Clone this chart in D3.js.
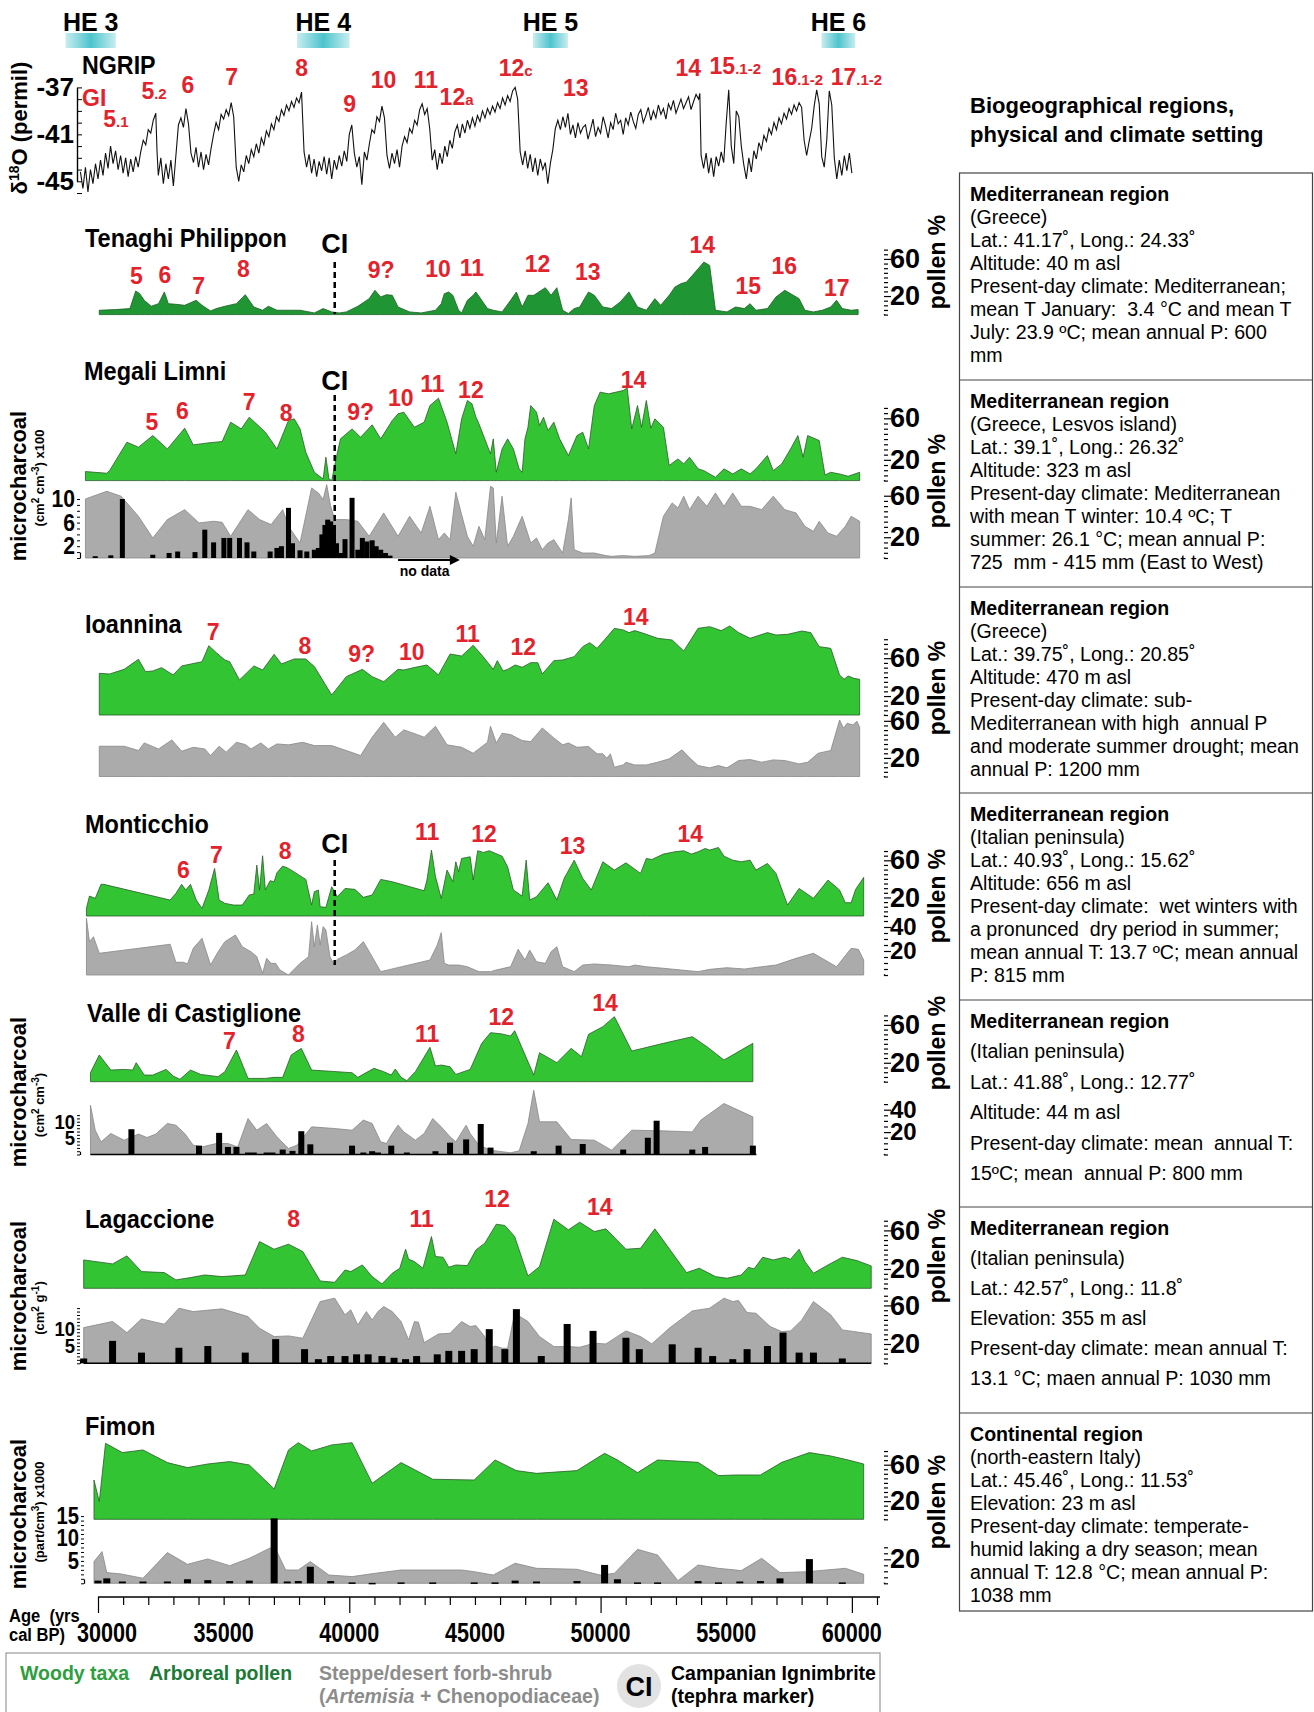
<!DOCTYPE html>
<html><head><meta charset="utf-8">
<script src="https://cdn.jsdelivr.net/npm/d3@7"></script>
<style>
body{margin:0;background:#fff;}
svg text{white-space:pre;}
</style></head><body>
<svg id="c" width="1314" height="1712" xmlns="http://www.w3.org/2000/svg"></svg>
<script>
// ---------------- DATA (age in ka, value) ----------------
const heEvents = [["HE 3",28.71,30.71],["HE 4",37.92,40.01],["HE 5",47.31,48.70],["HE 6",58.79,60.14]];
const ngrip = [[29.3,-44.2],[29.4,-45.6],[29.5,-43.8],[29.6,-45.9],[29.7,-44.0],[29.8,-45.2],[29.9,-43.5],[30.0,-44.8],[30.1,-43.2],[30.2,-44.5],[30.3,-42.6],[30.4,-43.9],[30.5,-42.0],[30.6,-43.5],[30.7,-42.4],[30.8,-44.0],[30.9,-42.8],[31.0,-44.3],[31.1,-43.0],[31.2,-44.6],[31.3,-43.1],[31.4,-44.2],[31.5,-42.9],[31.6,-43.8],[31.7,-42.5],[31.8,-41.5],[31.9,-41.9],[32.0,-40.6],[32.1,-40.9],[32.2,-39.8],[32.3,-39.2],[32.35,-42.5],[32.4,-44.5],[32.5,-43.0],[32.6,-45.2],[32.7,-43.5],[32.8,-44.8],[32.9,-43.2],[33.0,-45.4],[33.1,-42.8],[33.2,-40.2],[33.3,-39.6],[33.4,-40.4],[33.5,-38.8],[33.6,-40.1],[33.7,-42.6],[33.8,-43.4],[33.9,-42.1],[34.0,-43.8],[34.1,-42.5],[34.2,-44.0],[34.3,-42.7],[34.4,-43.6],[34.5,-42.2],[34.6,-41.0],[34.7,-40.0],[34.8,-40.6],[34.9,-39.3],[35.0,-39.7],[35.1,-38.9],[35.2,-39.4],[35.3,-38.3],[35.4,-39.5],[35.5,-43.8],[35.6,-45.0],[35.7,-43.6],[35.8,-44.2],[35.9,-42.8],[36.0,-43.5],[36.1,-42.3],[36.2,-42.9],[36.3,-41.8],[36.4,-42.6],[36.5,-41.3],[36.6,-41.9],[36.7,-40.7],[36.8,-41.2],[36.9,-40.1],[37.0,-40.6],[37.1,-39.5],[37.2,-39.9],[37.3,-38.9],[37.4,-39.4],[37.5,-38.5],[37.6,-39.0],[37.7,-38.2],[37.8,-38.7],[37.9,-37.9],[38.0,-38.3],[38.1,-37.4],[38.2,-42.5],[38.3,-43.8],[38.4,-42.7],[38.5,-44.3],[38.6,-43.1],[38.7,-44.6],[38.8,-43.3],[38.9,-44.1],[39.0,-42.9],[39.1,-44.4],[39.2,-43.0],[39.3,-44.8],[39.4,-43.2],[39.5,-44.0],[39.6,-42.8],[39.7,-43.7],[39.8,-42.4],[39.9,-43.3],[40.0,-41.0],[40.1,-40.2],[40.2,-42.6],[40.3,-43.8],[40.4,-42.9],[40.5,-45.3],[40.6,-42.5],[40.7,-43.2],[40.8,-41.8],[40.9,-40.6],[41.0,-40.9],[41.1,-39.5],[41.2,-39.9],[41.3,-38.6],[41.4,-39.6],[41.5,-42.8],[41.6,-43.9],[41.7,-42.6],[41.8,-43.5],[41.9,-42.3],[42.0,-43.8],[42.1,-42.0],[42.2,-41.2],[42.3,-41.7],[42.4,-40.5],[42.5,-40.9],[42.6,-39.8],[42.7,-40.2],[42.8,-38.9],[42.9,-38.4],[43.0,-39.3],[43.1,-38.8],[43.2,-40.5],[43.3,-43.2],[43.4,-42.3],[43.5,-44.0],[43.6,-42.6],[43.7,-43.5],[43.8,-42.0],[43.9,-42.9],[44.0,-41.5],[44.1,-42.2],[44.2,-40.8],[44.3,-40.2],[44.4,-41.3],[44.5,-40.1],[44.6,-40.9],[44.7,-39.8],[44.8,-40.5],[44.9,-39.6],[45.0,-40.3],[45.1,-39.4],[45.2,-39.9],[45.3,-39.0],[45.4,-39.6],[45.5,-38.8],[45.6,-39.3],[45.7,-38.6],[45.8,-39.1],[45.9,-38.3],[46.0,-38.8],[46.1,-37.9],[46.2,-38.5],[46.3,-37.7],[46.4,-38.2],[46.5,-37.3],[46.6,-37.0],[46.7,-38.0],[46.8,-42.5],[46.9,-43.6],[47.0,-42.4],[47.1,-43.9],[47.2,-42.7],[47.3,-44.2],[47.4,-43.0],[47.5,-44.5],[47.6,-43.1],[47.7,-44.0],[47.8,-43.4],[47.9,-45.2],[48.0,-43.5],[48.1,-42.3],[48.2,-40.5],[48.3,-39.8],[48.4,-40.6],[48.5,-39.5],[48.6,-40.4],[48.7,-39.2],[48.8,-41.0],[48.9,-40.2],[49.0,-41.3],[49.1,-40.0],[49.2,-40.9],[49.3,-40.4],[49.4,-40.2],[49.5,-41.4],[49.6,-40.6],[49.7,-39.7],[49.8,-41.2],[49.9,-40.4],[50.0,-40.9],[50.1,-39.5],[50.2,-40.3],[50.3,-41.3],[50.4,-40.0],[50.5,-40.6],[50.6,-39.2],[50.7,-40.1],[50.8,-39.8],[50.9,-41.0],[51.0,-39.6],[51.1,-40.2],[51.2,-39.1],[51.3,-39.9],[51.4,-40.5],[51.5,-39.3],[51.6,-38.9],[51.7,-40.0],[51.8,-39.4],[51.9,-38.7],[52.0,-39.8],[52.1,-39.0],[52.2,-39.6],[52.3,-38.5],[52.4,-39.3],[52.5,-38.8],[52.6,-39.7],[52.7,-38.4],[52.8,-38.9],[52.9,-38.1],[53.0,-39.2],[53.1,-38.6],[53.2,-38.0],[53.3,-38.8],[53.4,-38.3],[53.5,-37.8],[53.6,-38.9],[53.7,-38.2],[53.8,-37.6],[53.9,-38.0],[53.95,-37.5],[54.0,-42.8],[54.1,-43.9],[54.2,-42.6],[54.3,-44.3],[54.4,-43.0],[54.5,-44.6],[54.6,-42.9],[54.7,-43.7],[54.8,-42.5],[54.9,-43.4],[55.0,-40.0],[55.1,-37.2],[55.2,-42.0],[55.3,-43.5],[55.4,-39.0],[55.5,-39.5],[55.6,-42.0],[55.7,-43.6],[55.8,-44.8],[55.9,-43.0],[56.0,-44.2],[56.1,-42.4],[56.2,-43.1],[56.3,-41.7],[56.4,-42.3],[56.5,-41.1],[56.6,-41.6],[56.7,-40.5],[56.8,-41.0],[56.9,-40.0],[57.0,-40.6],[57.1,-39.6],[57.2,-40.1],[57.3,-39.2],[57.4,-39.7],[57.5,-38.8],[57.6,-39.3],[57.7,-38.5],[57.8,-39.0],[57.9,-38.3],[58.0,-38.7],[58.1,-41.5],[58.2,-42.8],[58.3,-41.6],[58.4,-40.5],[58.5,-38.6],[58.6,-37.2],[58.7,-38.4],[58.8,-42.9],[58.9,-43.8],[59.0,-41.5],[59.1,-37.3],[59.2,-38.5],[59.3,-43.0],[59.4,-44.8],[59.5,-43.2],[59.6,-44.5],[59.7,-42.8],[59.8,-44.1],[59.9,-42.6],[60.0,-44.3]];

const tenaghiAP = [[30.05,4.7],[30.69,5.4],[31.27,6.5],[31.50,25.4],[31.66,22.6],[31.84,15.4],[32.12,9.0],[32.41,11.8],[32.64,24.4],[32.80,11.8],[33.10,11.1],[33.45,10.0],[33.91,15.4],[34.14,10.0],[34.48,3.9],[34.71,6.5],[35.05,9.0],[35.51,11.8],[35.86,21.5],[36.20,8.2],[36.55,4.7],[36.78,9.0],[37.12,4.7],[37.58,4.7],[38.04,4.7],[38.61,1.8],[38.96,6.5],[39.30,2.9],[39.60,1.8],[39.88,2.9],[40.34,9.0],[40.79,17.2],[41.02,26.2],[41.25,19.0],[41.48,21.5],[41.71,20.8],[41.94,8.2],[42.40,2.9],[42.86,1.8],[43.43,4.7],[43.66,11.8],[43.78,22.6],[43.96,24.4],[44.12,20.8],[44.35,4.7],[44.47,1.8],[44.70,15.4],[44.93,20.8],[45.04,24.4],[45.27,15.4],[45.50,6.5],[45.73,4.7],[46.08,2.9],[46.42,15.4],[46.65,24.4],[46.88,8.2],[47.11,20.8],[47.34,20.8],[47.80,29.0],[48.03,20.8],[48.26,29.0],[48.49,4.7],[48.72,1.1],[48.95,6.5],[49.17,8.2],[49.40,19.0],[49.52,24.4],[49.75,20.8],[50.09,8.2],[50.44,6.5],[50.78,13.6],[51.13,24.4],[51.47,8.2],[51.82,4.7],[52.16,17.2],[52.39,10.0],[52.73,20.8],[52.96,29.7],[53.19,33.3],[53.42,35.1],[53.77,45.9],[54.11,56.6],[54.34,53.0],[54.57,4.7],[55.03,2.9],[55.37,8.2],[55.72,6.5],[55.95,11.8],[56.18,4.7],[56.64,6.5],[56.98,19.0],[57.33,26.2],[57.67,20.8],[57.90,17.2],[58.13,4.7],[58.47,2.9],[58.82,4.7],[59.16,8.2],[59.39,15.4],[59.62,6.5],[59.97,4.7],[60.25,5.4]];

const megaliWoody = [[29.50,8.7],[30.35,7.1],[30.46,9.6],[31.15,37.0],[31.61,32.2],[32.18,43.4],[32.76,30.5],[33.45,50.5],[33.79,34.4],[34.37,36.3],[34.94,37.6],[35.28,56.3],[35.70,49.8],[36.02,61.1],[36.66,46.6],[37.12,30.5],[37.58,57.9],[37.81,59.5],[38.04,49.8],[38.27,27.3],[38.61,8.0],[38.96,1.6],[39.07,22.5],[39.19,1.6],[39.30,0],[39.53,27.3],[39.65,40.2],[40.11,49.8],[40.45,41.8],[40.91,53.7],[41.25,40.2],[41.71,57.9],[41.94,64.3],[42.17,65.9],[42.59,51.4],[42.98,56.3],[43.21,72.3],[43.55,79.4],[43.89,56.3],[44.24,25.7],[44.47,59.5],[44.70,77.2],[44.88,74.0],[45.04,61.1],[45.16,54.7],[45.39,40.2],[45.62,25.7],[45.73,40.2],[45.85,8.0],[46.08,30.5],[46.30,40.2],[46.53,30.5],[46.76,11.3],[46.88,8.0],[46.99,40.2],[47.11,51.4],[47.22,72.3],[47.45,65.9],[47.57,53.1],[47.73,61.1],[47.91,48.2],[48.14,56.3],[48.37,40.2],[48.72,24.1],[49.06,43.4],[49.29,46.6],[49.52,30.5],[49.75,72.3],[49.98,85.2],[50.32,83.6],[50.90,86.8],[51.06,89.1],[51.24,49.8],[51.47,72.3],[51.63,51.4],[51.82,77.2],[52.00,50.5],[52.16,59.5],[52.50,51.4],[52.73,14.5],[53.08,20.9],[53.31,16.1],[53.54,22.5],[53.88,11.3],[54.11,9.6],[54.57,3.2],[54.91,11.3],[55.26,6.4],[55.60,11.3],[55.95,6.4],[56.18,11.3],[56.41,17.7],[56.64,24.1],[56.87,9.6],[57.21,16.1],[57.56,30.5],[57.85,43.4],[58.06,22.5],[58.24,43.4],[58.70,38.6],[58.93,5.5],[59.16,8.0],[59.51,6.4],[59.85,4.2],[60.31,8.0]];
const megaliSteppe = [[29.50,56.9],[30.35,64.3],[30.92,59.5],[31.61,40.2],[32.18,19.3],[32.76,37.0],[33.45,46.6],[34.02,33.8],[34.60,35.4],[34.94,34.4],[35.28,20.9],[35.97,46.6],[36.43,37.0],[36.89,32.2],[37.35,46.6],[37.58,30.5],[38.04,14.5],[38.50,67.5],[38.77,62.7],[38.96,56.3],[39.10,70.7],[39.26,49.8],[39.42,37.0],[39.65,37.0],[39.88,37.0],[40.34,35.4],[40.79,20.9],[41.37,43.4],[41.94,20.9],[42.40,40.2],[42.86,24.1],[43.21,49.8],[43.55,17.7],[43.78,24.1],[44.01,17.7],[44.24,63.3],[44.47,41.8],[44.70,20.9],[44.93,11.3],[45.16,30.5],[45.39,17.7],[45.62,69.1],[45.73,67.5],[45.85,14.5],[46.08,59.5],[46.30,11.3],[46.53,20.9],[46.88,40.2],[47.22,14.5],[47.45,19.3],[47.68,8.0],[47.91,14.5],[48.14,17.7],[48.49,4.8],[48.72,37.0],[48.83,57.9],[48.95,8.0],[49.29,4.8],[49.75,4.8],[50.21,2.3],[50.44,1.6],[50.90,2.3],[51.36,1.6],[51.93,2.3],[52.16,4.8],[52.50,40.2],[52.85,53.1],[53.08,48.2],[53.31,59.5],[53.54,46.6],[53.88,59.5],[54.23,49.8],[54.57,62.7],[54.91,49.8],[55.26,62.7],[55.60,49.8],[55.95,49.8],[56.41,46.6],[56.87,59.5],[57.33,46.6],[57.78,43.4],[58.13,30.5],[58.47,25.7],[58.70,35.4],[59.05,24.1],[59.39,20.9],[59.74,30.5],[59.97,40.2],[60.31,35.4]];
const megaliCharcoal = [[29.89,0.3],[30.51,0.45],[30.97,10.0],[32.18,0.55],[32.83,0.85],[33.17,1.1],[33.86,1.0],[34.25,4.8],[34.60,2.65],[35.01,3.4],[35.24,3.4],[35.63,3.4],[35.93,2.65],[36.20,1.1],[36.85,1.1],[37.12,1.7],[37.30,2.0],[37.58,8.5],[37.74,2.5],[38.04,1.3],[38.31,1.1],[38.61,1.4],[38.77,1.7],[38.91,4.0],[39.03,5.6],[39.14,6.5],[39.26,6.2],[39.37,5.6],[39.49,2.5],[39.65,0.85],[39.83,3.2],[40.11,10.2],[40.34,1.4],[40.52,3.4],[40.70,2.8],[40.91,3.0],[41.07,2.0],[41.25,1.4],[41.44,0.85],[41.62,0.4]];

const ioanninaWoody = [[30.05,44.0],[30.46,43.3],[31.04,48.2],[31.61,58.8],[31.89,45.8],[32.18,46.5],[32.53,50.0],[32.99,42.3],[33.33,51.8],[34.14,56.3],[34.41,73.2],[34.71,65.8],[35.05,58.1],[35.24,56.3],[35.63,37.0],[36.20,51.8],[36.55,47.5],[37.01,64.1],[37.30,53.9],[37.81,59.2],[38.27,59.2],[38.61,51.1],[39.30,21.1],[39.88,40.5],[40.52,48.2],[40.91,40.5],[41.37,35.2],[41.94,48.2],[42.17,47.5],[42.63,50.4],[43.09,52.8],[43.55,42.3],[44.01,64.4],[44.47,62.3],[44.93,73.6],[45.27,63.4],[45.73,48.2],[45.89,57.4],[46.12,46.5],[46.30,48.2],[46.60,52.8],[46.88,50.4],[47.22,55.3],[47.50,55.3],[47.68,43.3],[48.14,57.4],[48.49,58.1],[48.95,61.6],[49.29,72.2],[49.57,76.4],[49.86,70.4],[50.21,81.0],[50.55,91.5],[50.90,89.8],[51.13,87.0],[51.36,89.1],[51.70,86.3],[52.27,81.0],[52.85,79.2],[53.31,67.6],[53.88,91.5],[54.34,93.3],[54.80,89.1],[55.14,94.0],[55.49,87.0],[55.95,81.0],[56.64,87.0],[56.98,84.5],[57.44,85.2],[58.01,88.7],[58.36,87.0],[58.70,72.2],[59.16,70.4],[59.51,42.3],[59.69,37.7],[59.85,41.2],[60.08,38.7],[60.31,37.7]];
const ioanninaSteppe = [[30.05,32.6],[31.04,32.6],[31.61,28.0],[31.84,36.2],[32.41,29.7],[32.94,39.4],[33.33,27.2],[33.79,31.5],[34.25,29.7],[34.48,22.6],[34.82,32.6],[35.10,26.2],[35.51,36.9],[35.86,34.4],[36.09,29.7],[36.48,36.2],[36.78,29.7],[37.12,35.1],[37.58,34.1],[38.15,36.9],[38.61,33.3],[39.30,33.3],[39.88,28.0],[40.45,22.6],[40.91,42.3],[41.37,58.4],[41.83,42.3],[42.17,50.2],[42.63,45.9],[42.98,42.3],[43.43,54.1],[43.89,34.1],[44.24,32.6],[44.47,31.5],[44.93,25.1],[45.50,36.9],[45.62,54.1],[45.85,36.2],[46.08,46.6],[46.42,45.2],[46.88,38.7],[47.22,37.6],[47.68,52.3],[48.14,41.6],[48.49,34.1],[48.72,36.2],[49.06,31.5],[49.52,32.3],[49.86,24.4],[50.09,24.4],[50.25,19.7],[50.39,24.4],[50.55,10.0],[50.90,12.5],[51.01,15.4],[51.36,12.5],[51.82,12.5],[52.27,15.4],[52.73,19.0],[53.24,28.7],[53.54,20.1],[53.88,11.8],[54.34,9.3],[54.69,11.8],[55.03,9.3],[55.49,17.2],[55.95,18.3],[56.41,15.4],[56.87,17.9],[57.33,17.2],[57.90,13.6],[58.24,15.4],[58.66,25.1],[59.16,28.0],[59.51,60.9],[59.67,52.0],[59.81,57.3],[60.04,55.6],[60.20,59.5],[60.31,53.0]];

const monticchioWoody = [[29.54,8.2],[29.66,21.5],[29.89,19.0],[30.12,34.1],[30.23,34.1],[32.87,17.2],[33.10,24.4],[33.33,34.1],[33.49,28.0],[33.68,34.1],[33.91,17.2],[34.14,8.2],[34.41,28.0],[34.64,51.3],[34.82,17.2],[35.05,13.6],[35.40,11.8],[35.74,11.8],[36.02,22.6],[36.20,23.7],[36.32,54.8],[36.43,28.0],[36.55,64.9],[36.66,28.0],[36.85,38.0],[37.01,36.9],[37.12,46.6],[37.35,53.8],[37.58,51.3],[38.27,39.4],[38.50,11.8],[38.61,26.2],[38.77,28.0],[38.84,10.0],[39.07,9.3],[39.30,31.5],[39.53,20.8],[39.83,29.7],[40.22,28.7],[40.56,20.1],[40.91,22.6],[41.25,39.4],[41.71,36.9],[42.98,27.2],[43.09,38.7],[43.27,71.0],[43.43,42.3],[43.66,19.0],[43.89,49.5],[44.12,36.9],[44.24,58.4],[44.35,47.7],[44.47,62.0],[44.81,63.8],[44.93,38.7],[45.11,70.3],[45.34,68.5],[45.57,70.3],[46.08,64.5],[46.30,53.0],[46.53,28.0],[46.88,21.5],[47.04,60.2],[47.18,17.2],[47.45,20.8],[47.91,35.8],[48.26,17.2],[48.55,40.5],[48.95,60.2],[49.29,40.5],[49.63,28.0],[50.09,58.4],[50.55,49.5],[51.01,57.3],[51.59,45.9],[51.82,62.0],[52.04,60.9],[52.50,66.7],[52.96,69.2],[53.31,70.3],[53.61,66.7],[53.88,69.2],[54.16,72.8],[54.34,71.0],[54.69,73.8],[54.91,64.5],[55.26,60.2],[55.60,58.4],[55.95,60.2],[56.18,49.5],[56.64,56.6],[56.98,45.9],[57.44,11.8],[57.90,29.7],[58.47,19.0],[59.05,38.7],[59.51,28.0],[59.74,14.3],[59.97,14.3],[60.15,28.7],[60.47,41.6]];
const monticchioSteppe = [[29.54,47.2],[29.66,27.8],[29.82,31.9],[30.05,18.1],[32.87,25.6],[33.10,10.6],[33.40,10.6],[33.56,9.2],[33.79,22.2],[34.14,30.6],[34.48,8.3],[34.78,19.4],[35.05,27.8],[35.47,33.3],[35.74,23.6],[36.09,19.4],[36.32,15.3],[36.55,1.4],[36.71,13.9],[36.89,9.7],[37.07,9.7],[37.24,4.2],[37.58,0],[38.04,9.7],[38.38,15.3],[38.50,44.4],[38.61,23.6],[38.73,41.7],[38.84,25.0],[38.96,40.3],[39.07,37.5],[39.23,15.3],[39.37,9.7],[39.53,13.1],[39.88,16.7],[40.22,20.8],[40.56,27.8],[40.91,15.3],[41.25,2.8],[43.21,12.5],[43.50,25.0],[43.66,35.3],[43.78,9.7],[43.96,8.3],[44.35,8.3],[44.70,6.9],[45.16,2.8],[45.62,2.8],[45.85,4.2],[46.42,6.9],[46.72,21.4],[46.99,12.5],[47.18,20.8],[47.45,11.1],[47.80,9.7],[48.03,19.4],[48.26,23.6],[48.49,6.9],[48.95,2.8],[49.29,8.3],[49.75,9.2],[50.44,8.3],[51.13,6.9],[51.36,8.3],[51.82,6.9],[52.50,5.6],[53.19,4.2],[53.88,2.8],[54.34,4.7],[55.03,6.1],[55.72,5.0],[56.41,6.9],[56.98,8.3],[57.78,13.9],[58.47,18.1],[58.93,12.5],[59.39,6.9],[59.97,22.2],[60.26,21.4],[60.47,12.5]];

const valleWoody = [[29.70,9.5],[30.05,28.2],[30.51,12.3],[31.04,13.0],[31.38,12.3],[31.52,20.1],[31.84,7.0],[32.18,7.0],[32.71,13.0],[32.99,6.0],[33.26,2.5],[33.68,12.3],[34.09,7.7],[34.78,5.3],[35.05,10.6],[35.51,33.5],[35.97,3.5],[36.66,3.5],[37.01,4.6],[37.35,4.6],[37.69,28.2],[38.09,35.2],[38.50,12.3],[40.11,9.5],[40.34,4.6],[40.98,14.1],[41.37,10.6],[41.67,7.0],[41.83,13.4],[42.06,4.6],[42.29,1.1],[42.63,10.6],[43.21,36.3],[43.43,16.5],[43.66,17.6],[44.01,15.8],[44.24,7.7],[44.81,13.0],[45.27,40.5],[45.62,51.8],[46.08,50.4],[46.42,48.2],[46.58,53.9],[47.34,7.0],[47.57,30.6],[48.26,20.1],[48.83,35.2],[49.24,26.4],[49.52,50.0],[50.09,58.1],[50.55,68.7],[51.24,32.4],[52.50,40.5],[53.65,47.5],[54.23,37.0],[54.91,22.9],[56.06,40.5]];
const valleSteppe = [[29.70,44.0],[29.89,21.7],[30.12,11.3],[30.51,18.8],[31.04,12.8],[31.61,18.2],[31.95,15.2],[32.30,18.2],[32.76,27.7],[33.10,26.2],[33.45,18.8],[33.79,8.3],[34.14,6.8],[34.71,9.8],[35.17,9.8],[35.56,6.8],[35.97,32.1],[36.32,21.7],[36.71,27.7],[37.12,15.8],[37.58,5.4],[37.92,8.3],[38.50,24.7],[39.42,23.2],[40.11,21.7],[40.56,30.7],[40.91,27.7],[41.25,11.3],[41.48,9.8],[41.67,17.3],[41.94,26.2],[42.17,20.2],[42.63,12.8],[42.98,18.8],[43.32,32.1],[43.66,24.7],[44.01,15.8],[44.24,11.3],[44.65,26.2],[44.81,18.8],[45.16,8.3],[45.62,3.9],[46.42,1.5],[46.76,3.3],[47.11,27.7],[47.34,57.4],[47.57,29.2],[48.26,29.2],[48.83,13.4],[49.75,12.8],[50.44,3.9],[51.24,21.7],[52.50,21.1],[53.65,20.2],[53.99,30.7],[54.91,45.5],[56.06,33.6]];
const valleCharcoal = [[31.33,7.7],[34.02,2.7],[34.82,6.6],[35.17,2.3],[35.51,2.3],[35.97,0.6],[36.20,0.6],[36.71,0.6],[36.94,0.6],[37.35,1.5],[37.74,1.1],[38.09,7.1],[38.45,3.1],[40.11,2.7],[40.56,0.6],[40.91,1.0],[41.14,0.6],[41.67,2.7],[42.29,0.6],[43.43,1.0],[44.01,3.6],[44.65,4.6],[45.23,9.3],[45.62,2.1],[47.34,1.0],[48.33,2.7],[49.29,3.2],[50.90,1.5],[51.88,5.1],[52.23,10.3],[53.65,1.5],[54.16,2.3],[56.06,2.7]];

const lagWoody = [[29.43,29.4],[30.58,25.3],[31.15,33.6],[31.73,17.3],[32.64,16.3],[33.10,8.7],[33.68,11.1],[34.25,13.8],[34.94,12.1],[35.86,13.8],[36.43,48.4],[37.01,40.5],[37.58,45.7],[38.15,38.1],[38.84,7.6],[39.42,6.2],[39.83,19.0],[40.06,17.3],[40.52,24.2],[40.91,12.1],[41.30,4.5],[41.71,15.6],[42.01,20.8],[42.24,40.5],[42.36,30.1],[42.59,27.7],[42.93,20.8],[43.27,53.6],[43.43,32.9],[43.73,32.2],[43.96,21.8],[44.24,24.2],[44.70,23.5],[45.04,39.8],[45.39,46.7],[45.85,66.4],[46.19,65.1],[46.58,53.6],[47.11,12.8],[47.57,22.5],[48.14,71.6],[48.72,60.6],[49.17,68.5],[49.75,58.8],[50.21,61.6],[51.01,40.5],[51.59,41.5],[52.16,61.6],[53.42,16.3],[53.93,20.8],[54.57,12.1],[55.03,10.4],[55.60,13.8],[55.88,21.8],[56.11,20.1],[56.45,32.2],[56.87,29.4],[57.33,32.2],[57.56,30.1],[57.90,40.5],[58.13,27.7],[58.47,15.6],[59.05,24.2],[59.62,32.2],[60.20,28.7],[60.77,23.2]];
const lagSteppe = [[29.43,37.0],[30.58,43.3],[31.15,31.8],[31.73,46.0],[32.64,40.5],[33.22,57.1],[33.79,53.6],[34.94,56.4],[35.97,48.4],[36.43,36.3],[37.01,27.7],[37.58,28.4],[38.15,26.0],[38.84,64.0],[39.42,67.5],[39.83,50.2],[40.06,55.4],[40.34,39.8],[40.68,53.6],[40.91,45.0],[41.14,53.6],[41.37,58.8],[41.71,53.6],[42.06,43.3],[42.36,24.2],[42.59,43.3],[42.75,42.6],[42.98,21.5],[43.55,30.4],[44.01,31.1],[44.47,43.3],[44.81,38.1],[45.04,39.1],[45.39,27.7],[45.57,14.5],[45.80,18.0],[46.08,15.6],[46.30,15.6],[46.58,51.9],[47.11,43.3],[47.57,27.7],[48.14,17.3],[48.72,17.3],[49.17,16.6],[49.75,20.8],[50.21,20.1],[51.01,33.6],[51.59,27.7],[52.04,20.1],[52.73,36.3],[53.65,54.3],[54.34,57.1],[54.91,67.5],[55.26,64.0],[55.49,65.1],[55.83,52.6],[56.18,51.9],[56.75,38.1],[57.21,32.9],[57.56,33.6],[58.01,45.0],[58.47,64.0],[59.16,50.2],[59.62,34.6],[60.77,30.4]];
const lagCharcoal = [[29.43,1.4],[30.58,6.5],[31.73,3.1],[33.22,4.5],[34.37,5.0],[35.86,3.1],[37.07,7.0],[38.22,4.1],[38.77,1.2],[39.26,2.1],[39.83,2.1],[40.29,2.6],[40.75,2.6],[41.30,2.1],[41.78,1.6],[42.24,1.2],[42.68,2.1],[43.50,2.6],[43.96,3.6],[44.47,3.6],[44.97,4.1],[45.57,9.9],[46.19,4.1],[46.65,15.7],[47.64,2.1],[48.67,11.4],[49.70,9.4],[51.01,7.4],[51.54,4.1],[52.85,5.5],[53.88,4.5],[54.46,2.1],[55.26,1.2],[55.83,4.1],[56.64,5.0],[57.26,8.9],[57.90,3.1],[58.47,3.1],[59.62,1.4]];

const fimonWoody = [[29.84,43.2],[30.05,19.4],[30.30,83.5],[30.97,73.3],[31.79,76.2],[32.76,62.3],[33.56,56.8],[34.37,60.8],[35.24,63.4],[36.02,59.7],[37.01,33.3],[37.58,76.2],[37.97,84.2],[38.50,75.1],[39.30,81.7],[40.11,84.2],[40.91,39.6],[42.06,62.3],[43.32,44.0],[44.97,43.2],[45.80,65.2],[46.65,53.5],[47.45,50.5],[49.06,53.5],[50.16,72.5],[50.67,65.2],[51.47,51.3],[52.27,65.2],[53.88,62.6],[54.69,48.0],[55.37,48.7],[56.36,48.7],[57.21,62.6],[58.31,73.3],[59.16,69.6],[59.85,65.2],[60.47,60.8]];
const fimonSteppe = [[29.84,18.1],[30.16,26.4],[30.35,8.9],[30.92,7.8],[31.79,4.2],[32.76,25.6],[33.56,15.8],[34.37,20.3],[35.24,14.7],[36.02,20.8],[37.01,31.1],[37.47,11.1],[37.97,11.1],[38.45,18.1],[39.19,6.9],[40.11,5.6],[41.02,8.3],[42.06,11.1],[43.32,11.1],[44.47,11.1],[44.97,9.7],[45.73,6.9],[46.60,16.7],[47.45,12.5],[49.06,11.7],[49.98,6.9],[50.55,8.3],[51.47,28.3],[52.27,23.6],[53.08,2.2],[53.88,15.3],[54.69,12.5],[55.60,10.6],[56.41,20.8],[57.14,8.9],[58.24,9.7],[59.74,12.5],[60.47,7.5]];
const fimonCharcoal = [[30.00,0.6],[30.35,1.1],[30.97,0.4],[31.79,0.4],[32.76,0.4],[33.56,0.9],[34.37,0.7],[35.24,0.5],[36.02,0.6],[37.01,14.5],[37.53,0.4],[37.97,0.5],[38.45,3.7],[39.26,0.5],[40.11,0.2],[40.91,0.1],[42.06,0.2],[43.32,0.2],[44.97,0.2],[45.80,0.2],[46.60,0.6],[47.45,0.4],[49.06,0.5],[50.16,4.1],[50.67,0.9],[51.47,0.2],[52.27,0.2],[53.88,0.5],[54.69,0.2],[55.54,0.4],[56.36,0.5],[57.14,1.1],[58.31,5.4],[59.62,0.2]];

const ciAge = 39.42;
const ageTickLabels = ["30000","35000","40000","45000","50000","55000","60000"];

// red interstadial labels [text|suffix, age ka]
const ngripLabels = [["5|.1",30.71,127],["5|.2",32.23,99],["6",33.58,93],["7",35.32,85],["8",38.10,76],["9",40.01,112],["10",41.36,88],["11",43.05,88],["12|a",44.27,105],["12|c",46.62,76],["13",49.01,96],["14",53.49,76],["15|.1-2",55.36,74],["16|.1-2",57.83,85],["17|.1-2",60.18,85]];
const tenaghiLabels = [["5",31.53,284],["6",32.66,283],["7",34.01,294],["8",35.79,277],["9?",41.27,278],["10",43.53,277],["11",44.88,276],["12",47.49,272],["13",49.49,280],["14",54.05,253],["15",55.88,294],["16",57.31,274],["17",59.40,296]];
const megaliLabels = [["5",32.14,430],["6",33.36,419],["7",36.01,410],["8",37.49,421],["9?",40.45,420],["10",42.05,406],["11",43.31,392],["12",44.84,398],["14",51.31,388]];
const ioanninaLabels = [["7",34.58,640],["8",38.23,654],["9?",40.49,662],["10",42.49,660],["11",44.71,642],["12",46.92,655],["14",51.40,625]];
const monticchioLabels = [["6",33.40,878],["7",34.71,863],["8",37.45,859],["11",43.10,840],["12",45.36,842],["13",48.88,854],["14",53.57,842]];
const valleLabels = [["7",35.23,1049],["8",37.97,1042],["11",43.10,1042],["12",46.05,1025],["14",50.18,1011]];
const lagLabels = [["8",37.79,1227],["11",42.88,1227],["12",45.88,1207],["14",49.97,1215]];

const infoTitle = ["Biogeographical regions,","physical and climate setting"];
const infoTexts = [
 ["Mediterranean region","(Greece)","Lat.: 41.17˚, Long.: 24.33˚","Altitude: 40 m asl","Present-day climate: Mediterranean;","mean T January:  3.4 °C and mean T","July: 23.9 ºC; mean annual P: 600","mm"],
 ["Mediterranean region","(Greece, Lesvos island)","Lat.: 39.1˚, Long.: 26.32˚","Altitude: 323 m asl","Present-day climate: Mediterranean","with mean T winter: 10.4 ºC; T","summer: 26.1 °C; mean annual P:","725  mm - 415 mm (East to West)"],
 ["Mediterranean region","(Greece)","Lat.: 39.75˚, Long.: 20.85˚","Altitude: 470 m asl","Present-day climate: sub-","Mediterranean with high  annual P","and moderate summer drought; mean","annual P: 1200 mm"],
 ["Mediterranean region","(Italian peninsula)","Lat.: 40.93˚, Long.: 15.62˚","Altitude: 656 m asl","Present-day climate:  wet winters with","a pronunced  dry period in summer;","mean annual T: 13.7 ºC; mean annual","P: 815 mm"],
 ["Mediterranean region","(Italian peninsula)","Lat.: 41.88˚, Long.: 12.77˚","Altitude: 44 m asl","Present-day climate: mean  annual T:","15ºC; mean  annual P: 800 mm"],
 ["Mediterranean region","(Italian peninsula)","Lat.: 42.57˚, Long.: 11.8˚","Elevation: 355 m asl","Present-day climate: mean annual T:","13.1 °C; maen annual P: 1030 mm"],
 ["Continental region","(north-eastern Italy)","Lat.: 45.46˚, Long.: 11.53˚","Elevation: 23 m asl","Present-day climate: temperate-","humid laking a dry season; mean","annual T: 12.8 °C; mean annual P:","1038 mm"]
];

// ---------------- DRAWING ----------------
const NARROW = "'Liberation Sans Narrow','Arial Narrow','Liberation Sans',Arial,sans-serif";
const ARIAL = "'Liberation Sans',Arial,sans-serif";
const RED = "#e3232c", WOODY = "#33c433", AP = "#1f9633", STEPPE = "#ababab";
const svg = d3.select("#c");
svg.append("rect").attr("width",1314).attr("height",1712).attr("fill","#fff");
const x = d3.scaleLinear().domain([30,61]).range([98,877]);
const AXR = 884;

function txt(t, px, py, size, opts={}){
  const sx = opts.sx || 1;
  const e = svg.append("text").attr("x",px/sx).attr("y",py).attr("font-size",size)
    .attr("font-family", opts.family||NARROW).attr("font-weight", opts.weight||"bold")
    .attr("fill", opts.fill||"#000").attr("text-anchor", opts.anchor||"start").text(t);
  if(opts.rotate) e.attr("transform",`rotate(-90,${px},${py})`);
  else if(sx!==1) e.attr("transform",`scale(${sx},1)`);
  return e;
}
function yLin(base, ppu){ return d3.scaleLinear().domain([0,1]).range([base, base-ppu]); }
function drawArea(data, ys, fill, stroke){
  svg.append("path").datum(data)
    .attr("d", d3.area().x(d=>x(d[0])).y0(ys(0)).y1(d=>ys(d[1])))
    .attr("fill",fill).attr("stroke",stroke).attr("stroke-width",0.8).attr("stroke-linejoin","round");
}
function drawBars(data, ys, w){
  svg.append("g").selectAll("rect").data(data).join("rect")
    .attr("x",d=>x(d[0])-w/2).attr("y",d=>ys(d[1])).attr("width",w)
    .attr("height",d=>Math.max(1.5, ys(0)-ys(d[1]))).attr("fill","#000");
}
function rAxis(ys, max, labs, fs){
  const g = svg.append("g").attr("transform",`translate(${AXR},0)`)
    .call(d3.axisRight(ys).tickValues(d3.range(0,max+0.01,5)).tickSize(4).tickSizeOuter(0)
      .tickFormat(d=>labs.includes(d)?d:""));
  g.select(".domain").attr("stroke-width",1.4);
  g.selectAll(".tick line").attr("x2",d=>labs.includes(d)?7:4).attr("stroke-width",1.2);
  g.selectAll(".tick text").attr("x",6).attr("font-size",fs||27).attr("font-family",NARROW).attr("font-weight","bold").attr("fill","#000");
}
function lAxis(ys, max, labs, ax, fs){
  const sx = 0.88;
  const g = svg.append("g").attr("transform",`translate(${ax},0)`)
    .call(d3.axisLeft(ys).tickValues(d3.range(0,max+0.01,1)).tickSize(3).tickSizeOuter(0)
      .tickFormat(d=>labs.includes(d)?d:""));
  g.select(".domain").attr("stroke-width",1.2);
  g.selectAll(".tick text").attr("x",-5/sx).attr("transform",`scale(${sx},1)`).attr("font-size",fs||26).attr("font-family",NARROW).attr("font-weight","bold").attr("fill","#000");
}
function redLabels(list){
  list.forEach(([t,a,yy])=>{
    const parts = t.split("|");
    const e = svg.append("text").attr("x",x(a)).attr("y",yy).attr("text-anchor","middle")
      .attr("font-family",NARROW).attr("font-weight","bold").attr("font-size",23).attr("fill",RED);
    e.append("tspan").text(parts[0]);
    if(parts[1]) e.append("tspan").attr("font-size",15).text(parts[1]);
  });
}
function pollenLabel(cy){ txt("pollen %", 945, cy, 23, {family:ARIAL, anchor:"middle", rotate:true}); }
function ciMark(cx, ty, y1, y2){
  txt("CI", cx, ty, 27, {anchor:"middle"});
  svg.append("line").attr("x1",cx).attr("x2",cx).attr("y1",y1).attr("y2",y2)
    .attr("stroke","#000").attr("stroke-width",2.5).attr("stroke-dasharray","6,4");
}
function charcoalLabel(cy, sub, cy2){
  txt("microcharcoal", 26, cy, 22, {family:ARIAL, anchor:"middle", rotate:true});
  const c2 = cy2 || cy;
  const e = svg.append("text").attr("transform",`rotate(-90,44,${c2})`).attr("x",44).attr("y",c2)
    .attr("text-anchor","middle").attr("font-family",ARIAL).attr("font-weight","bold").attr("font-size",13);
  sub.forEach(([s,sup])=>{ const t=e.append("tspan").text(s); if(sup) t.attr("baseline-shift","super").attr("font-size",10); });
}

// HE events
const defs = svg.append("defs");
const gr = defs.append("linearGradient").attr("id","heg");
gr.append("stop").attr("offset","0%").attr("stop-color","#c8edf0");
gr.append("stop").attr("offset","50%").attr("stop-color","#4cc4cc");
gr.append("stop").attr("offset","100%").attr("stop-color","#c8edf0");
heEvents.forEach(([n,a,b])=>{
  svg.append("rect").attr("x",x(a)).attr("y",33).attr("width",x(b)-x(a)).attr("height",15).attr("fill","url(#heg)");
  txt(n,(x(a)+x(b))/2,31,25,{anchor:"middle"});
});

// NGRIP
const yN = d3.scaleLinear().domain([-37,-45]).range([87.4,181.3]);
svg.append("g").attr("transform","translate(77,0)")
  .call(d3.axisLeft(yN).tickValues(d3.range(-46,-36.99,1)).tickSize(-5).tickPadding(3).tickSizeOuter(0)
    .tickFormat(d=>[-37,-41,-45].includes(d)?d:""))
  .call(g=>{g.select(".domain").attr("stroke-width",1.4);
    g.selectAll(".tick text").attr("font-size",26).attr("font-family",NARROW).attr("font-weight","bold").attr("fill","#000");});
svg.append("path").datum(ngrip).attr("d",d3.line().x(d=>x(d[0])).y(d=>yN(d[1])))
  .attr("fill","none").attr("stroke","#111").attr("stroke-width",1.1);
txt("NGRIP",82,74,25,{sx:0.93});
txt("GI",82,106,23,{fill:RED});
redLabels(ngripLabels);
{
  const e = svg.append("text").attr("transform","rotate(-90,27,128)").attr("x",27).attr("y",128)
    .attr("text-anchor","middle").attr("font-family",ARIAL).attr("font-weight","bold").attr("font-size",22);
  e.append("tspan").text("δ");
  e.append("tspan").attr("baseline-shift","super").attr("font-size",14).text("18");
  e.append("tspan").text("O (permil)");
}

// Tenaghi Philippon
const yT = yLin(314.6, 0.928);
drawArea(tenaghiAP, yT, AP, "#1a5e24");
rAxis(yT, 70, [20,60]);
txt("Tenaghi Philippon",85,247,25,{sx:0.94});
redLabels(tenaghiLabels);
ciMark(x(ciAge), 253, 262, 314);
pollenLabel(262);

// Megali Limni
const yMg = yLin(480.6, 1.038), yMs = yLin(558, 1.038), yMc = yLin(558, 5.9);
drawArea(megaliWoody, yMg, WOODY, "#2a5a2a");
drawArea(megaliSteppe, yMs, STEPPE, "#888");
drawBars(megaliCharcoal, yMc, 5);
rAxis(yMg, 70, [20,60]); rAxis(yMs, 60, [20,60]);
lAxis(yMc, 10, [2,6,10], 80, 24);
txt("Megali Limni",84,380,25,{sx:0.94});
redLabels(megaliLabels);
ciMark(x(ciAge), 390, 395, 557);
pollenLabel(481);
charcoalLabel(486, [["(cm"],["2",1],[" cm"],["-3",1],[") x100"]], 478);
svg.append("line").attr("x1",x(41.94)).attr("x2",x(44.25)).attr("y1",560).attr("y2",560).attr("stroke","#000").attr("stroke-width",2);
svg.append("path").attr("d",`M${x(44.4)},560 l-10,-5 l0,10 z`).attr("fill","#000");
txt("no data", x(43.0), 576, 14, {anchor:"middle"});

// Ioannina
const yIg = yLin(715, 0.947), yIs = yLin(776.5, 0.928);
drawArea(ioanninaWoody, yIg, WOODY, "#2a5a2a");
drawArea(ioanninaSteppe, yIs, STEPPE, "#888");
rAxis(yIg, 80, [20,60]); rAxis(yIs, 60, [20,60]);
txt("Ioannina",85,633,25,{sx:0.94});
redLabels(ioanninaLabels);
pollenLabel(688);

// Monticchio
const yMog = yLin(916, 0.928), yMos = yLin(975, 1.2);
drawArea(monticchioWoody, yMog, WOODY, "#2a5a2a");
drawArea(monticchioSteppe, yMos, STEPPE, "#888");
rAxis(yMog, 70, [20,60]); rAxis(yMos, 45, [20,40], 24);
txt("Monticchio",85,833,25,{sx:0.94});
redLabels(monticchioLabels);
ciMark(x(ciAge), 853, 860, 965);
pollenLabel(896);

// Valle di Castiglione
const yVg = yLin(1081.7, 0.947), yVs = yLin(1154.5, 1.12), yVc = yLin(1154.5, 3.28);
drawArea(valleWoody, yVg, WOODY, "#2a5a2a");
drawArea(valleSteppe, yVs, STEPPE, "#888");
drawBars(valleCharcoal, yVc, 6);
svg.append("line").attr("x1",x(29.70)).attr("x2",x(56.2)).attr("y1",1154.5).attr("y2",1154.5).attr("stroke","#000").attr("stroke-width",1.5);
rAxis(yVg, 70, [20,60]); rAxis(yVs, 45, [20,40], 24);
lAxis(yVc, 12, [5,10], 80, 21);
txt("Valle di Castiglione",87,1022,25,{sx:0.94});
redLabels(valleLabels);
pollenLabel(1043);
charcoalLabel(1092, [["(cm"],["2",1],[" cm"],["-3",1],[")"]], 1105);

// Lagaccione
const yLg = yLin(1288.3, 0.965), yLs = yLin(1363.3, 0.965), yLc = yLin(1363.3, 3.45);
drawArea(lagWoody, yLg, WOODY, "#2a5a2a");
drawArea(lagSteppe, yLs, STEPPE, "#888");
drawBars(lagCharcoal, yLc, 7);
svg.append("line").attr("x1",x(29.43)).attr("x2",x(60.77)).attr("y1",1363.3).attr("y2",1363.3).attr("stroke","#000").attr("stroke-width",1.5);
rAxis(yLg, 70, [20,60]); rAxis(yLs, 70, [20,60]);
lAxis(yLc, 16, [5,10], 80, 21);
txt("Lagaccione",85,1228,25,{sx:0.94});
redLabels(lagLabels);
pollenLabel(1256);
charcoalLabel(1296, [["(cm"],["2",1],[" g"],["-1",1],[")"]], 1308);

// Fimon
const yFg = yLin(1519.3, 0.91), yFs = yLin(1583.3, 1.2), yFc = yLin(1583.3, 4.48);
drawArea(fimonWoody, yFg, WOODY, "#2a5a2a");
drawArea(fimonSteppe, yFs, STEPPE, "#888");
drawBars(fimonCharcoal, yFc, 7);
rAxis(yFg, 75, [20,60]); rAxis(yFs, 30, [20]);
lAxis(yFc, 15, [5,10,15], 84, 23);
txt("Fimon",85,1435,25,{sx:0.94});
pollenLabel(1502);
charcoalLabel(1514, [["(part/cm"],["3",1],[") x1000"]], 1512);

// Age axis
svg.append("g").attr("transform","translate(0,1597)")
  .call(d3.axisBottom(x).tickValues(d3.range(30,61.01,1)).tickSize(8).tickSizeOuter(0).tickFormat(""))
  .call(g=>{g.select(".domain").attr("stroke-width",1.5).attr("d","M98,0H880");
    g.selectAll(".tick line").attr("y2",d=>d%10===0?16:8).attr("stroke-width",1.2);});
ageTickLabels.forEach((l,i)=>txt(l, x(30+5*i)+(i===0?9:0), 1642, 27, {anchor:"middle", sx:0.8}));
txt("Age  (yrs",9,1622,19,{sx:0.87});
txt("cal BP)",9,1641,19,{sx:0.87});

// Legend
svg.append("rect").attr("x",6).attr("y",1653).attr("width",874).attr("height",70).attr("fill","none").attr("stroke","#999").attr("stroke-width",1.2);
txt("Woody taxa",20,1680,21,{fill:"#2e9e3e", sx:0.93});
txt("Arboreal pollen",149,1680,21,{fill:"#1c7a36", sx:0.93});
txt("Steppe/desert forb-shrub",319,1680,21,{fill:"#8c8c8c", sx:0.93});
{
  const e = txt("",319,1703,21,{fill:"#8c8c8c", sx:0.93});
  e.append("tspan").text("(");
  e.append("tspan").attr("font-style","italic").text("Artemisia");
  e.append("tspan").text(" + Chenopodiaceae)");
}
svg.append("circle").attr("cx",639).attr("cy",1686).attr("r",22).attr("fill","#e2e2e2");
txt("CI",639,1696,27,{anchor:"middle"});
txt("Campanian Ignimbrite",671,1680,21,{sx:0.93});
txt("(tephra marker)",671,1703,21,{sx:0.93});

// Info panel
txt(infoTitle[0],970,113,22,{family:ARIAL});
txt(infoTitle[1],970,142,22,{family:ARIAL});
const boxEdges = [173,380,587,793,1000,1207,1413,1611];
const spacing = [23,23,23,23,30.4,30,23];
svg.append("rect").attr("x",959.5).attr("y",173).attr("width",353).attr("height",1611-173).attr("fill","none").attr("stroke","#444").attr("stroke-width",1.2);
boxEdges.slice(1,-1).forEach(v=>svg.append("line").attr("x1",959.5).attr("x2",1312.5).attr("y1",v).attr("y2",v).attr("stroke","#444").attr("stroke-width",1.2));
infoTexts.forEach((lines,bi)=>{
  lines.forEach((l,li)=>{
    txt(l,970,boxEdges[bi]+28+li*spacing[bi],19.6,{family:ARIAL, weight: li===0?"bold":"normal"});
  });
});
</script></body></html>
